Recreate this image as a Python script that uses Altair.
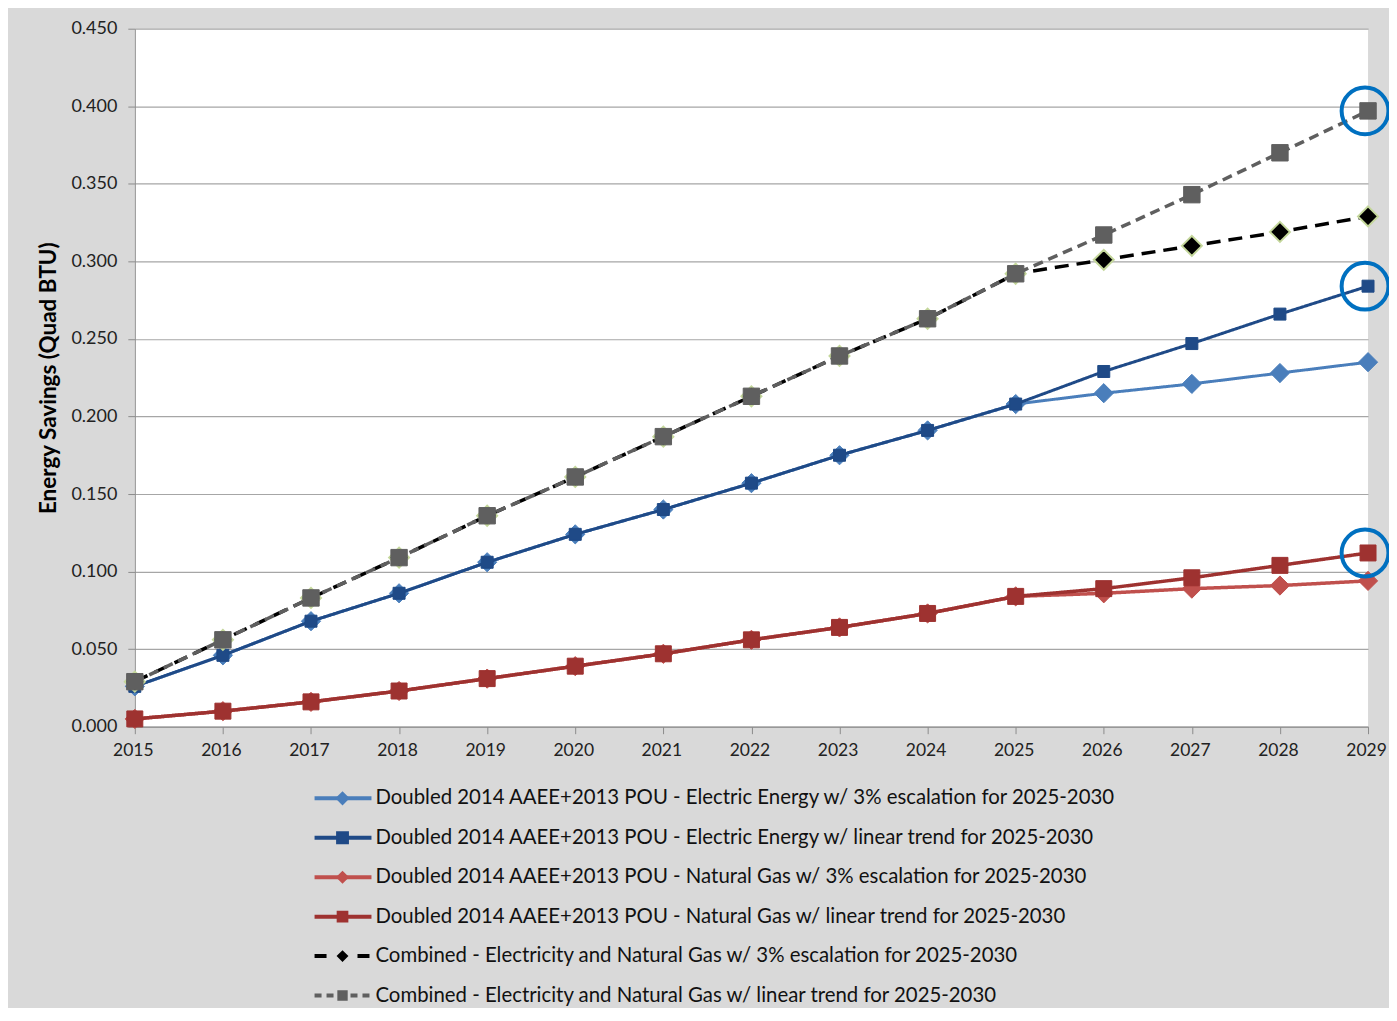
import altair as alt
import pandas as pd

years = list(range(2015, 2030))

elec_esc = [0.026, 0.046, 0.068, 0.086, 0.106, 0.124, 0.140, 0.157, 0.175, 0.191, 0.208, 0.215, 0.221, 0.228, 0.235]
elec_lin = [0.026, 0.046, 0.068, 0.086, 0.106, 0.124, 0.140, 0.157, 0.175, 0.191, 0.208, 0.229, 0.247, 0.266, 0.284]
gas_esc = [0.005, 0.010, 0.016, 0.023, 0.031, 0.039, 0.047, 0.056, 0.064, 0.073, 0.084, 0.086, 0.089, 0.091, 0.094]
gas_lin = [0.005, 0.010, 0.016, 0.023, 0.031, 0.039, 0.047, 0.056, 0.064, 0.073, 0.084, 0.089, 0.096, 0.104, 0.112]
comb_esc = [0.029, 0.056, 0.083, 0.109, 0.136, 0.161, 0.187, 0.213, 0.239, 0.263, 0.292, 0.301, 0.310, 0.319, 0.329]
comb_lin = [0.029, 0.056, 0.083, 0.109, 0.136, 0.161, 0.187, 0.213, 0.239, 0.263, 0.292, 0.317, 0.343, 0.370, 0.397]

names = [
    "Doubled 2014 AAEE+2013 POU - Electric Energy w/ 3% escalation for 2025-2030",
    "Doubled 2014 AAEE+2013 POU - Electric Energy w/ linear trend for 2025-2030",
    "Doubled 2014 AAEE+2013 POU - Natural Gas w/ 3% escalation for 2025-2030",
    "Doubled 2014 AAEE+2013 POU - Natural Gas w/ linear trend for 2025-2030",
    "Combined - Electricity and Natural Gas w/ 3% escalation for 2025-2030",
    "Combined - Electricity and Natural Gas w/ linear trend for 2025-2030",
]
series_values = [elec_esc, elec_lin, gas_esc, gas_lin, comb_esc, comb_lin]
y_ticks = [0.0, 0.05, 0.10, 0.15, 0.20, 0.25, 0.30, 0.35, 0.40, 0.45]

# styles (kept apart from the data)
line_colors = ["#4a7ebb", "#1f4a87", "#c0504d", "#9e3230", "#000000", "#5f5f5f"]
marker_fill = ["#4a7ebb", "#1f4a87", "#c0504d", "#9e3230", "#000000", "#5f5f5f"]
marker_stroke = ["#4a7ebb", "#1f4a87", "#c0504d", "#9e3230", "#c4d79b", "#5f5f5f"]
leg_stroke = ["#4a7ebb", "#1f4a87", "#c0504d", "#9e3230", "#000000", "#5f5f5f"]
marker_shape = ["diamond", "square", "diamond", "square", "diamond", "square"]
marker_size = [370, 144, 370, 256, 400, 270]
marker_sw = [1, 1, 1, 1, 2, 1]
line_dash = [[1, 0], [1, 0], [1, 0], [1, 0], [14, 8], [10, 6]]
line_width = [3, 3, 3.5, 3.5, 3.5, 3.5]
leg_size = [130, 70, 130, 210, 190, 160]
leg_dash = [[1, 0], [1, 0], [1, 0], [1, 0], [12, 31], [7, 5]]

FONT = "Lato"
W, H = 1235, 699

xscale = alt.Scale(domain=[2015, 2029], nice=False, zero=False)
yscale = alt.Scale(domain=[0, 0.45], nice=False)
xenc = alt.X("year:Q", scale=xscale, title=None,
             axis=alt.Axis(values=years, format="d", grid=False, labelFlush=False,
                           labelOffset=-2, tickSize=7, labelPadding=8, labelFontSize=17.5,
                           labelFont=FONT, labelColor="#222222", domainColor="#8c8c8c",
                           tickColor="#8c8c8c"))
yenc = alt.Y("value:Q", scale=yscale,
             axis=alt.Axis(values=y_ticks, format=".3f", labelFlush=False, tickSize=7,
                           labelPadding=11, labelFontSize=18, labelFont=FONT, labelColor="#222222",
                           domainColor="#8c8c8c", tickColor="#8c8c8c", gridColor="#a6a6a6",
                           gridWidth=1.2, title="Energy Savings (Quad BTU)", titleFont=FONT,
                           titleFontSize=22.5, titleFontWeight="bold", titleColor="#000000",
                           titlePadding=10))

layers = []
for i, (nm, vals) in enumerate(zip(names, series_values)):
    df = pd.DataFrame({"year": years, "value": vals, "series": nm})
    base = alt.Chart(df)
    layers.append(base.mark_line(color=line_colors[i], strokeWidth=line_width[i],
                                 strokeDash=line_dash[i]).encode(x=xenc, y=yenc))
    layers.append(base.mark_point(shape=marker_shape[i], filled=True, fill=marker_fill[i],
                                  stroke=marker_stroke[i], strokeWidth=marker_sw[i],
                                  size=marker_size[i], opacity=1).encode(x=xenc, y=yenc))

circ_df = pd.DataFrame({"year": [2029, 2029, 2029],
                        "value": [comb_lin[-1], elec_lin[-1], gas_lin[-1]]})
layers.append(alt.Chart(circ_df).mark_point(shape="circle", filled=False, stroke="#0070c0",
                                             strokeWidth=4, size=2200, opacity=1, xOffset=-3)
              .encode(x=xenc, y=yenc))

main = alt.layer(*layers).properties(width=W, height=H,
                                     view=alt.ViewBackground(fill="white", strokeWidth=0))

# legend built from the series names
leg_df = pd.DataFrame({"name": names})
yl = alt.Y("name:N", sort=names, axis=None, scale=alt.Scale(domain=names, padding=0.1))
lb = alt.Chart(leg_df)
leg_rule = lb.mark_rule().encode(
    x=alt.value(180), x2=alt.value(237), y=yl,
    color=alt.Color("name:N", scale=alt.Scale(domain=names, range=line_colors), legend=None),
    strokeDash=alt.StrokeDash("name:N", scale=alt.Scale(domain=names, range=leg_dash), legend=None),
    strokeWidth=alt.value(4),
)
leg_pt = lb.mark_point(filled=True, opacity=1).encode(
    x=alt.value(208), y=yl,
    fill=alt.Fill("name:N", scale=alt.Scale(domain=names, range=marker_fill), legend=None),
    stroke=alt.Stroke("name:N", scale=alt.Scale(domain=names, range=leg_stroke), legend=None),
    shape=alt.Shape("name:N", scale=alt.Scale(domain=names, range=marker_shape), legend=None),
    size=alt.Size("name:N", scale=alt.Scale(domain=names, range=leg_size), legend=None),
)
leg_txt = lb.mark_text(align="left", baseline="middle", font=FONT, fontSize=20.4,
                       color="#111111").encode(x=alt.value(241), y=yl, text="name:N")
legend = alt.layer(leg_rule, leg_pt, leg_txt).properties(
    width=W, height=alt.Step(39.5),
    view=alt.ViewBackground(fill="#d9d9d9", strokeWidth=0))

chart = alt.vconcat(main, legend, spacing=17).properties(
    background="#d9d9d9",
    padding={"left": 29, "top": 11, "right": -8, "bottom": -10},
).configure_view(strokeWidth=0)

chart.save("out.html", embed_options={"renderer": "svg", "actions": False})
